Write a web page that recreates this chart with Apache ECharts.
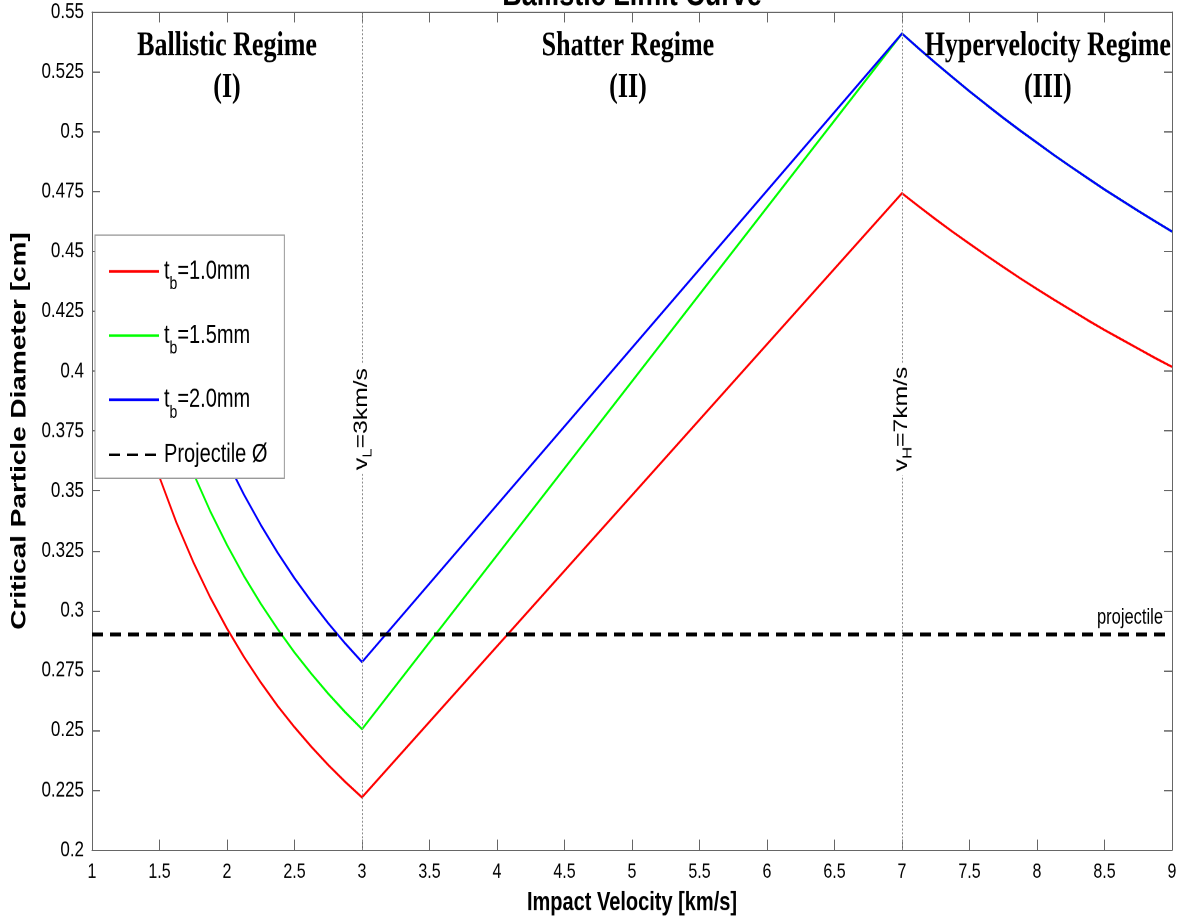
<!DOCTYPE html>
<html><head><meta charset="utf-8">
<script src="https://cdn.jsdelivr.net/npm/echarts@6/dist/echarts.min.js"></script>
<style>
html,body{margin:0;padding:0;background:#fff;overflow:hidden}
#wrap{width:1178px;height:920px;overflow:hidden}
#c{width:1178px;height:708px;transform:scaleY(1.299435);transform-origin:0 0}
</style>
</head><body><div id="wrap"><div id="c"></div></div>
<script>
// ---- data ----
const xMin = 1, xMax = 9, xStep = 0.5;
const yMin = 0.2, yMax = 0.55, yStep = 0.025;

const seriesNames = ['t_b=1.0mm', 't_b=1.5mm', 't_b=2.0mm', 'Projectile Ø'];

const redV = [1.375, 1.5, 1.625, 1.75, 1.875, 2.0, 2.125, 2.25, 2.375, 2.5, 2.625, 2.75, 2.875, 3.0,
  7.0, 7.125, 7.25, 7.375, 7.5, 7.625, 7.75, 7.875, 8.0, 8.125, 8.25, 8.375, 8.5, 8.625, 8.75, 8.875, 9.0];
const redD = [0.3773, 0.3557, 0.3368, 0.3203, 0.3056, 0.2925, 0.2807, 0.2700, 0.2602, 0.2513, 0.2431, 0.2355, 0.2285, 0.2220,
  0.4743, 0.4688, 0.4634, 0.4582, 0.4532, 0.4483, 0.4435, 0.4388, 0.4343, 0.4299, 0.4256, 0.4213, 0.4172, 0.4133, 0.4094, 0.4055, 0.4018];

const greenV = [1.625, 1.75, 1.875, 2.0, 2.125, 2.25, 2.375, 2.5, 2.625, 2.75, 2.875, 3.0,
  7.0, 7.125, 7.25, 7.375, 7.5, 7.625, 7.75, 7.875, 8.0, 8.125, 8.25, 8.375, 8.5, 8.625, 8.75, 8.875, 9.0];
const greenD = [0.3754, 0.3575, 0.3416, 0.3274, 0.3145, 0.3029, 0.2923, 0.2825, 0.2736, 0.2653, 0.2576, 0.2505,
  0.5410, 0.5347, 0.5286, 0.5227, 0.5169, 0.5113, 0.5058, 0.5005, 0.4954, 0.4903, 0.4854, 0.4806, 0.4759, 0.4714, 0.4669, 0.4626, 0.4583];

const blueV = [1.875, 2.0, 2.125, 2.25, 2.375, 2.5, 2.625, 2.75, 2.875, 3.0,
  7.0, 7.125, 7.25, 7.375, 7.5, 7.625, 7.75, 7.875, 8.0, 8.125, 8.25, 8.375, 8.5, 8.625, 8.75, 8.875, 9.0];
const blueD = [0.3780, 0.3625, 0.3485, 0.3358, 0.3242, 0.3135, 0.3038, 0.2947, 0.2863, 0.2785,
  0.5410, 0.5347, 0.5286, 0.5227, 0.5169, 0.5113, 0.5058, 0.5005, 0.4954, 0.4903, 0.4854, 0.4806, 0.4759, 0.4714, 0.4669, 0.4626, 0.4583];

const projV = [1, 9];
const projD = [0.29, 0.29];

const limitV     = [3, 7];
const limitSubs  = ['L', 'H'];
const limitTexts = ['=3km/s', '=7km/s'];

const regimeTexts    = ['Ballistic Regime', 'Shatter Regime', 'Hypervelocity Regime'];
const regimeNumerals = ['(I)', '(II)', '(III)'];

const titleText = 'Ballistic Limit Curve';
const xName = 'Impact Velocity [km/s]';
const yName = 'Critical Particle Diameter [cm]';
const projText = 'projectile';

// ---- styling ----
const SANS = "'Liberation Sans',Arial,Helvetica,sans-serif";
const SERIF = "'Liberation Serif','Times New Roman',serif";
const AX = '#666';
const S = 920 / 708; // vertical stretch of the whole figure (as in the reference)

const zip = (a, b) => a.map((v, i) => [v, b[i]]);

const chart = echarts.init(document.getElementById('c'), null, {renderer: 'canvas', devicePixelRatio: 2});

function mkLine(name, v, d, color) {
  return {
    name, type: 'line', data: zip(v, d), symbol: 'none', showSymbol: false,
    lineStyle: {color, width: 1.8}, itemStyle: {color}, z: 3
  };
}

const axisCommon = {
  axisLine: {show: true, onZero: false, lineStyle: {color: AX, width: 1}},
  axisTick: {show: true, inside: true, length: 8, lineStyle: {color: AX}},
  splitLine: {show: false}
};

const option = {
  animation: false,
  backgroundColor: '#fff',
  grid: {left: 92, right: 6, top: 12 / S, bottom: 70 / S, containLabel: false, outerBoundsMode: 'none'},
  xAxis: [
    Object.assign({type: 'value', min: xMin, max: xMax, interval: xStep, position: 'bottom',
      name: xName, nameLocation: 'middle', nameGap: 31,
      nameTextStyle: {fontFamily: SANS, fontWeight: 'bold', fontSize: 20, color: '#000'},
      axisLabel: {show: true, margin: 9, fontFamily: SANS, fontSize: 16, color: '#000'}
    }, axisCommon),
    Object.assign({type: 'value', min: xMin, max: xMax, interval: xStep, position: 'top',
      axisLabel: {show: false}
    }, axisCommon)
  ],
  yAxis: [
    Object.assign({type: 'value', min: yMin, max: yMax, interval: yStep, position: 'left',
      name: yName, nameLocation: 'middle', nameGap: 51, nameRotate: 90,
      nameTextStyle: {fontFamily: SANS, fontWeight: 'bold', fontSize: 21.5, color: '#000'},
      axisLabel: {show: true, margin: 8, fontFamily: SANS, fontSize: 17, color: '#000'}
    }, axisCommon),
    Object.assign({type: 'value', min: yMin, max: yMax, interval: yStep, position: 'right',
      axisLabel: {show: false}
    }, axisCommon)
  ],
  legend: {
    orient: 'vertical', left: 95, top: 235 / S,
    padding: [11, 17, 8, 13],
    itemWidth: 50, itemHeight: 14, itemGap: 15.4, itemTextGap: 4,
    backgroundColor: '#fff', borderColor: '#999', borderWidth: 1,
    itemStyle: {opacity: 0},
    data: seriesNames,
    formatter: function (name) {
      const m = name.match(/^t_b(.*)$/);
      if (m) return '{a|t}{s|b}{a|' + m[1] + '}';
      return '{p|' + name + '}';
    },
    textStyle: {
      fontFamily: SANS, fontSize: 20, color: '#000',
      rich: {
        a: {fontFamily: SANS, fontSize: 20, lineHeight: 23, color: '#000'},
        s: {fontFamily: SANS, fontSize: 14, lineHeight: 14, padding: [20, 0, 0, 0], color: '#000'},
        p: {fontFamily: SANS, fontSize: 20, lineHeight: 23, color: '#000'}
      }
    },
    z: 10
  },
  series: [
    mkLine(seriesNames[0], redV, redD, '#ff0000'),
    mkLine(seriesNames[1], greenV, greenD, '#00ff00'),
    mkLine(seriesNames[2], blueV, blueD, '#0000ff'),
    {
      name: seriesNames[3], type: 'line', data: zip(projV, projD), symbol: 'none', showSymbol: false,
      lineStyle: {color: '#000', width: 3, type: [11, 7]}, itemStyle: {color: '#000'}, z: 4,
      markLine: {
        silent: true, symbol: ['none', 'none'], animation: false,
        label: {show: false},
        lineStyle: {color: '#8a8a8a', type: [1.5, 1.5], width: 1},
        data: limitV.map(v => ({xAxis: v}))
      },
      markPoint: {
        silent: true, symbol: 'rect', symbolSize: 0, animation: false,
        data: [{
          coord: [projV[1], projD[1]],
          label: {
            show: true, formatter: projText, position: 'left', distance: 9, offset: [0, -12.7],
            fontFamily: SANS, fontSize: 16.5, color: '#000'
          }
        }]
      }
    }
  ]
};

chart.setOption(option);

function px(v, d) { return chart.convertToPixel({xAxisIndex: 0, yAxisIndex: 0}, [v, d]); }

const graphics = [];
// title (mostly above the top edge, as in the reference)
graphics.push({
  type: 'text', x: px(5, 0.55)[0], y: 10, z: 20,
  style: {text: titleText, fontFamily: SANS, fontWeight: 'bold', fontSize: 27, fill: '#000',
    align: 'center', verticalAlign: 'bottom'}
});
// regime labels
const regimeV = [2.0, 4.97, 8.08];
regimeTexts.forEach((t, i) => {
  const p = px(regimeV[i], 0.527);
  graphics.push({
    type: 'text', x: p[0], y: p[1], z: 20,
    style: {text: t + '\n' + regimeNumerals[i], fontFamily: SERIF, fontWeight: 'bold', fontSize: 26,
      lineHeight: 32, fill: '#000', align: 'center', verticalAlign: 'middle'}
  });
});
// velocity limit labels on the dotted lines
limitV.forEach((v, i) => {
  const p = px(v, 0.38);
  graphics.push({
    type: 'text', x: p[0], y: p[1], rotation: Math.PI / 2, z: 20,
    style: {
      text: '{a|v}{s|' + limitSubs[i] + '}{a|' + limitTexts[i] + '}',
      align: 'center', verticalAlign: 'middle', backgroundColor: '#fff', padding: [3, 3, 3, 3],
      rich: {
        a: {fontFamily: SANS, fontSize: 19, lineHeight: 22, color: '#000'},
        s: {fontFamily: SANS, fontSize: 13, lineHeight: 13, padding: [12, 0, 0, 0], color: '#000'}
      }
    }
  });
});
chart.setOption({graphic: graphics});
</script>
</body></html>
